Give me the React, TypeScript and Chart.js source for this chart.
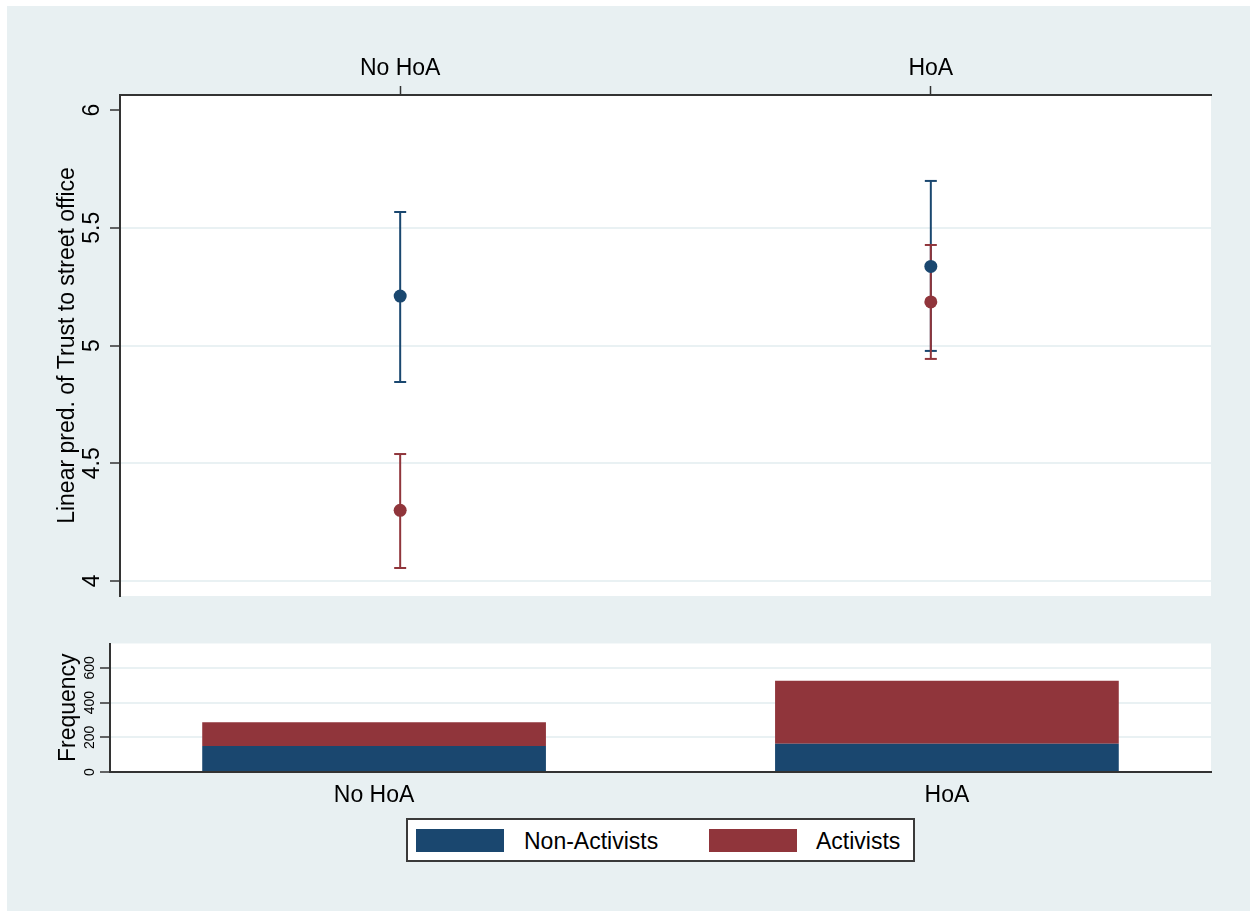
import React, { useEffect, useRef } from 'react';
import { Chart, registerables } from 'chart.js';
Chart.register(...registerables);

// ---------- data ----------
const categories = ['No HoA', 'HoA'];
const seriesNames = ['Non-Activists', 'Activists'];
const seriesColors = ['#1a476f', '#90353b'];

const nonActMean = [5.21, 5.336];
const nonActLow = [4.845, 4.977];
const nonActHigh = [5.567, 5.699];

const actMean = [4.3, 5.185];
const actLow = [4.055, 4.943];
const actHigh = [4.539, 5.427];

const predTicks = [4, 4.5, 5, 5.5, 6];
const predTickLabels = ['4', '4.5', '5', '5.5', '6'];

const freqNonAct = [150, 162];
const freqAct = [136, 364];
const freqTicks = [0, 200, 400, 600];
const freqTickLabels = ['0', '200', '400', '600'];

const predTitle = 'Linear pred. of Trust to street office';
const freqTitle = 'Frequency';

// ---------- styles ----------
const FONT = '"Liberation Sans", Arial, sans-serif';
const BG = '#e8f0f2';
const GRID = '#e9f1f3';
const AXIS = '#333333';
const TRANSPARENT = 'rgba(0,0,0,0)';

const whitePlotArea = {
  id: 'whitePlotArea',
  beforeDraw(chart: any) {
    const { ctx, chartArea } = chart;
    ctx.save();
    ctx.fillStyle = '#ffffff';
    ctx.fillRect(chartArea.left, chartArea.top, chartArea.right - chartArea.left, chartArea.bottom - chartArea.top);
    ctx.restore();
  },
};

function rotatedLabels(id: string, values: number[], labels: string[], size: number, gap: number) {
  return {
    id,
    afterDraw(chart: any) {
      const s = chart.scales.y;
      const ctx = chart.ctx;
      ctx.save();
      ctx.font = `${size}px ${FONT}`;
      ctx.fillStyle = '#000';
      ctx.textAlign = 'center';
      ctx.textBaseline = 'middle';
      values.forEach((v, i) => {
        const y = s.getPixelForValue(v);
        ctx.save();
        ctx.translate(s.right - gap, y);
        ctx.rotate(-Math.PI / 2);
        ctx.fillText(labels[i], 0, 0);
        ctx.restore();
      });
      ctx.restore();
    },
  };
}

function TopChart() {
  const ref = useRef<HTMLCanvasElement>(null);
  useEffect(() => {
    const ciSets: any[] = [];
    const lows = [nonActLow, actLow];
    const highs = [nonActHigh, actHigh];
    [0, 1].forEach((s) => {
      categories.forEach((_, i) => {
        ciSets.push({
          type: 'scatter',
          data: [
            { x: i, y: lows[s][i] },
            { x: i, y: highs[s][i] },
          ],
          showLine: true,
          borderColor: seriesColors[s],
          borderWidth: 2,
          pointStyle: 'line',
          pointRadius: 6,
          pointBorderColor: seriesColors[s],
          pointBorderWidth: 2,
          order: s === 0 ? 3 : 2,
        });
      });
    });
    const means = [nonActMean, actMean];
    const meanSets = [0, 1].map((s) => ({
      type: 'scatter',
      data: categories.map((_, i) => ({ x: i, y: means[s][i] })),
      showLine: false,
      pointStyle: 'circle',
      pointRadius: 6.5,
      pointBackgroundColor: seriesColors[s],
      pointBorderWidth: 0,
      order: s === 0 ? 1 : 0,
    }));
    const chart = new Chart(ref.current as HTMLCanvasElement, {
      type: 'scatter',
      data: { datasets: [...ciSets, ...meanSets] as any },
      options: {
        responsive: false,
        animation: false,
        devicePixelRatio: 1,
        layout: { padding: { left: 0, right: 39, top: 0, bottom: 19 } },
        plugins: { legend: { display: false }, tooltip: { enabled: false } },
        scales: {
          x: {
            type: 'linear',
            position: 'top',
            min: -0.528,
            max: 1.528,
            offset: false,
            afterBuildTicks: (s: any) => {
              s.ticks = categories.map((_, i) => ({ value: i }));
            },
            afterFit: (s: any) => {
              s.height = 89;
            },
            ticks: {
              callback: (v: any) => categories[v],
              font: { size: 23, family: FONT },
              color: '#000',
              padding: 4,
              maxRotation: 0,
              autoSkip: false,
            },
            grid: { drawOnChartArea: false, tickLength: 9, tickColor: AXIS, tickWidth: 1.5, offset: false },
            border: { display: true, color: AXIS, width: 2 },
          },
          y: {
            type: 'linear',
            min: 3.936,
            max: 6.064,
            afterBuildTicks: (s: any) => {
              s.ticks = predTicks.map((v) => ({ value: v }));
            },
            afterFit: (s: any) => {
              s.width = 113;
            },
            ticks: { display: false },
            grid: {
              color: (c: any) => (c.tick && c.tick.value === 6 ? TRANSPARENT : GRID),
              lineWidth: 2,
              tickLength: 10,
              tickColor: AXIS,
              tickWidth: 1.5,
            },
            border: { display: true, color: AXIS, width: 2 },
            title: {
              display: true,
              text: predTitle,
              font: { size: 23, family: FONT },
              color: '#000',
              padding: { top: 47, bottom: 0 },
            },
          },
        },
      },
      plugins: [whitePlotArea, rotatedLabels('predLabels', predTicks, predTickLabels, 23, 27.5)],
    } as any);
    return () => chart.destroy();
  }, []);
  return (
    <canvas
      ref={ref}
      width={1243}
      height={609}
      style={{ position: 'absolute', left: 7, top: 6, width: 1243, height: 609 }}
    />
  );
}

function BottomChart() {
  const ref = useRef<HTMLCanvasElement>(null);
  useEffect(() => {
    const vals = [freqNonAct, freqAct];
    const chart = new Chart(ref.current as HTMLCanvasElement, {
      type: 'bar',
      data: {
        datasets: [0, 1].map((s) => ({
          label: seriesNames[s],
          data: categories.map((_, i) => ({ x: i, y: vals[s][i] })),
          backgroundColor: seriesColors[s],
          borderWidth: 0,
          categoryPercentage: 0.6,
          barPercentage: 1,
        })),
      },
      options: {
        responsive: false,
        animation: false,
        devicePixelRatio: 1,
        layout: { padding: { left: 0, right: 39, top: 28.5, bottom: 73 } },
        plugins: { legend: { display: false }, tooltip: { enabled: false } },
        scales: {
          x: {
            type: 'linear',
            stacked: true,
            offset: false,
            min: -0.461,
            max: 1.461,
            afterBuildTicks: (s: any) => {
              s.ticks = categories.map((_, i) => ({ value: i }));
            },
            afterFit: (s: any) => {
              s.height = 60;
            },
            ticks: {
              callback: (v: any) => categories[v],
              font: { size: 23, family: FONT },
              color: '#000',
              padding: 10,
              maxRotation: 0,
              autoSkip: false,
            },
            grid: { display: false, drawTicks: false, offset: false },
            border: { display: true, color: AXIS, width: 2 },
          },
          y: {
            type: 'linear',
            stacked: true,
            min: 0,
            max: 740,
            afterBuildTicks: (s: any) => {
              s.ticks = freqTicks.map((v) => ({ value: v }));
            },
            afterFit: (s: any) => {
              s.width = 103;
            },
            ticks: { display: false },
            grid: {
              color: (c: any) => (c.tick && c.tick.value === 0 ? TRANSPARENT : GRID),
              lineWidth: 2,
              tickLength: 10,
              tickColor: AXIS,
              tickWidth: 1.5,
            },
            border: { display: true, color: AXIS, width: 2 },
            title: {
              display: true,
              text: freqTitle,
              font: { size: 23, family: FONT },
              color: '#000',
              padding: { top: 48, bottom: 0 },
            },
          },
        },
      },
      plugins: [whitePlotArea, rotatedLabels('freqLabels', freqTicks, freqTickLabels, 14, 20.3)],
    } as any);
    return () => chart.destroy();
  }, []);
  return (
    <canvas
      ref={ref}
      width={1243}
      height={290}
      style={{ position: 'absolute', left: 7, top: 615, width: 1243, height: 290 }}
    />
  );
}

function Legend() {
  const swatchLefts = [8, 301];
  const textLefts = [116, 408];
  return (
    <div
      style={{
        position: 'absolute',
        left: 406,
        top: 818,
        width: 505,
        height: 40,
        border: '2px solid #3a3a3a',
        background: '#fff',
        fontFamily: FONT,
        fontSize: 23,
        color: '#000',
      }}
    >
      {seriesNames.map((n, i) => (
        <React.Fragment key={n}>
          <div
            style={{
              position: 'absolute',
              left: swatchLefts[i],
              top: 9,
              width: 88,
              height: 23,
              background: seriesColors[i],
            }}
          />
          <div
            style={{
              position: 'absolute',
              left: textLefts[i],
              top: 0,
              height: 40,
              lineHeight: '42px',
              whiteSpace: 'nowrap',
            }}
          >
            {n}
          </div>
        </React.Fragment>
      ))}
    </div>
  );
}

export default function App() {
  return (
    <div
      style={{
        position: 'absolute',
        left: 0,
        top: 0,
        width: 1250,
        height: 911,
        background: '#fff',
        overflow: 'hidden',
      }}
    >
      <div style={{ position: 'absolute', left: 7, top: 6, right: 0, bottom: 0, background: BG }} />
      <TopChart />
      <BottomChart />
      <Legend />
    </div>
  );
}
